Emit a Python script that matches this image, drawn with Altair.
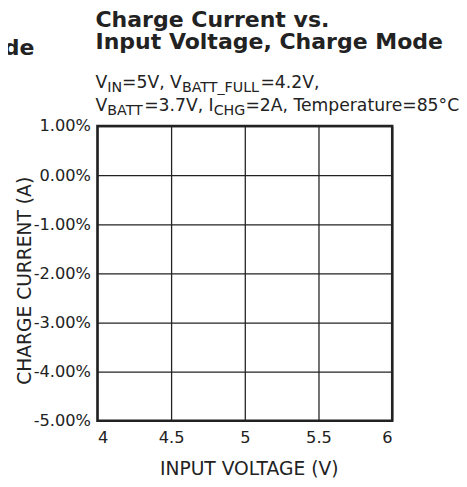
import altair as alt
import pandas as pd

# ---------------- data ----------------
x_domain = [4, 6]
y_domain = [-5, 1]                      # percent
x_ticks = [4, 4.5, 5, 5.5, 6]
y_ticks = [1, 0, -1, -2, -3, -4, -5]    # percent

title_lines = ["Charge Current vs.", "Input Voltage, Charge Mode"]
subtitle_line1 = [("V", 0), ("IN", 1), ("=5V, V", 0), ("BATT_FULL", 1), ("=4.2V,", 0)]
subtitle_line2 = [("V", 0), ("BATT", 1), ("=3.7V, I", 0), ("CHG", 1), ("=2A, Temperature=85°C", 0)]
x_title = "INPUT VOLTAGE (V)"
y_title = "CHARGE CURRENT (A)"
neighbor_tail = "Mode"

# ---------------- style ----------------
FONT = "DejaVu Sans"
INK = "#222222"
W, H = 300, 300
PAD = {"left": 91, "top": 116, "right": 68, "bottom": 54}

# DejaVu Sans advance widths (em)
ADV = {
    "V": .684, "I": .295, "N": .748, "B": .686, "A": .684, "T": .611, "_": .5,
    "F": .575, "U": .732, "L": .557, "C": .698, "H": .752, "G": .775,
    "=": .838, ",": .318, ".": .318, " ": .318, "e": .615, "m": .974, "p": .635,
    "r": .411, "a": .613, "t": .392, "u": .634, "°": .5,
}
for d in "0123456789":
    ADV[d] = .636


def seg_layers(segs, x0, base, size, sub_size, sub_drop):
    layers = []
    x = x0
    for text, sub in segs:
        fs = sub_size if sub else size
        y = base + (sub_drop if sub else 0)
        layers.append(
            alt.Chart(alt.Data(values=[{"t": text}]))
            .mark_text(align="left", baseline="alphabetic", font=FONT, fontSize=fs, color=INK)
            .encode(text="t:N", x=alt.value(round(x, 1)), y=alt.value(y))
        )
        x += sum(ADV.get(c, 0.6) for c in text) * fs
    return layers


def text_layer(text, x, y, size, weight="normal", align="left"):
    return (
        alt.Chart(alt.Data(values=[{"t": text}]))
        .mark_text(align=align, baseline="alphabetic", font=FONT, fontSize=size,
                   fontWeight=weight, color=INK)
        .encode(text="t:N", x=alt.value(x), y=alt.value(y))
    )


frame = pd.DataFrame({"v": x_domain, "c": y_domain})

base = alt.Chart(frame).mark_point(opacity=0).encode(
    x=alt.X(
        "v:Q",
        scale=alt.Scale(domain=x_domain, nice=False, zero=False),
        axis=alt.Axis(values=x_ticks, format="~g", title=x_title,
                      labelPadding=9, titleFontSize=19, titlePadding=14, titleX=154),
    ),
    y=alt.Y(
        "c:Q",
        scale=alt.Scale(domain=y_domain, nice=False, zero=False),
        axis=alt.Axis(
            values=y_ticks,
            labelExpr="(datum.value < 0 ? '-' : '') + format(abs(datum.value), '.2f') + '%'",
            title=y_title, labelPadding=7, titleFontSize=19, titlePadding=-1, titleY=157,
        ),
    ),
)

texts = [
    text_layer(title_lines[0], -2, -101, 22.4, "bold"),
    text_layer(title_lines[1], -2, -78, 22.4, "bold"),
    text_layer(neighbor_tail, -64, -72, 22.4, "bold", align="right"),
]
texts += seg_layers(subtitle_line1, -2, -39, 17.5, 14.5, 4)
texts += seg_layers(subtitle_line2, -2, -15, 17.5, 14.5, 4)

chart = (
    alt.layer(base, *texts)
    .properties(width=W, height=H, autosize=alt.AutoSizeParams(type="none"), padding=PAD)
    .configure_view(stroke=INK, strokeWidth=2.5)
    .configure_axis(
        domain=False, ticks=False, grid=True, gridColor=INK, gridWidth=1.3, gridOpacity=1,
        labelFont=FONT, labelFontSize=16.5, labelColor=INK,
        titleFont=FONT, titleFontWeight="normal", titleColor=INK,
    )
)

chart.save("out.html", embed_options={"renderer": "svg", "actions": False})
